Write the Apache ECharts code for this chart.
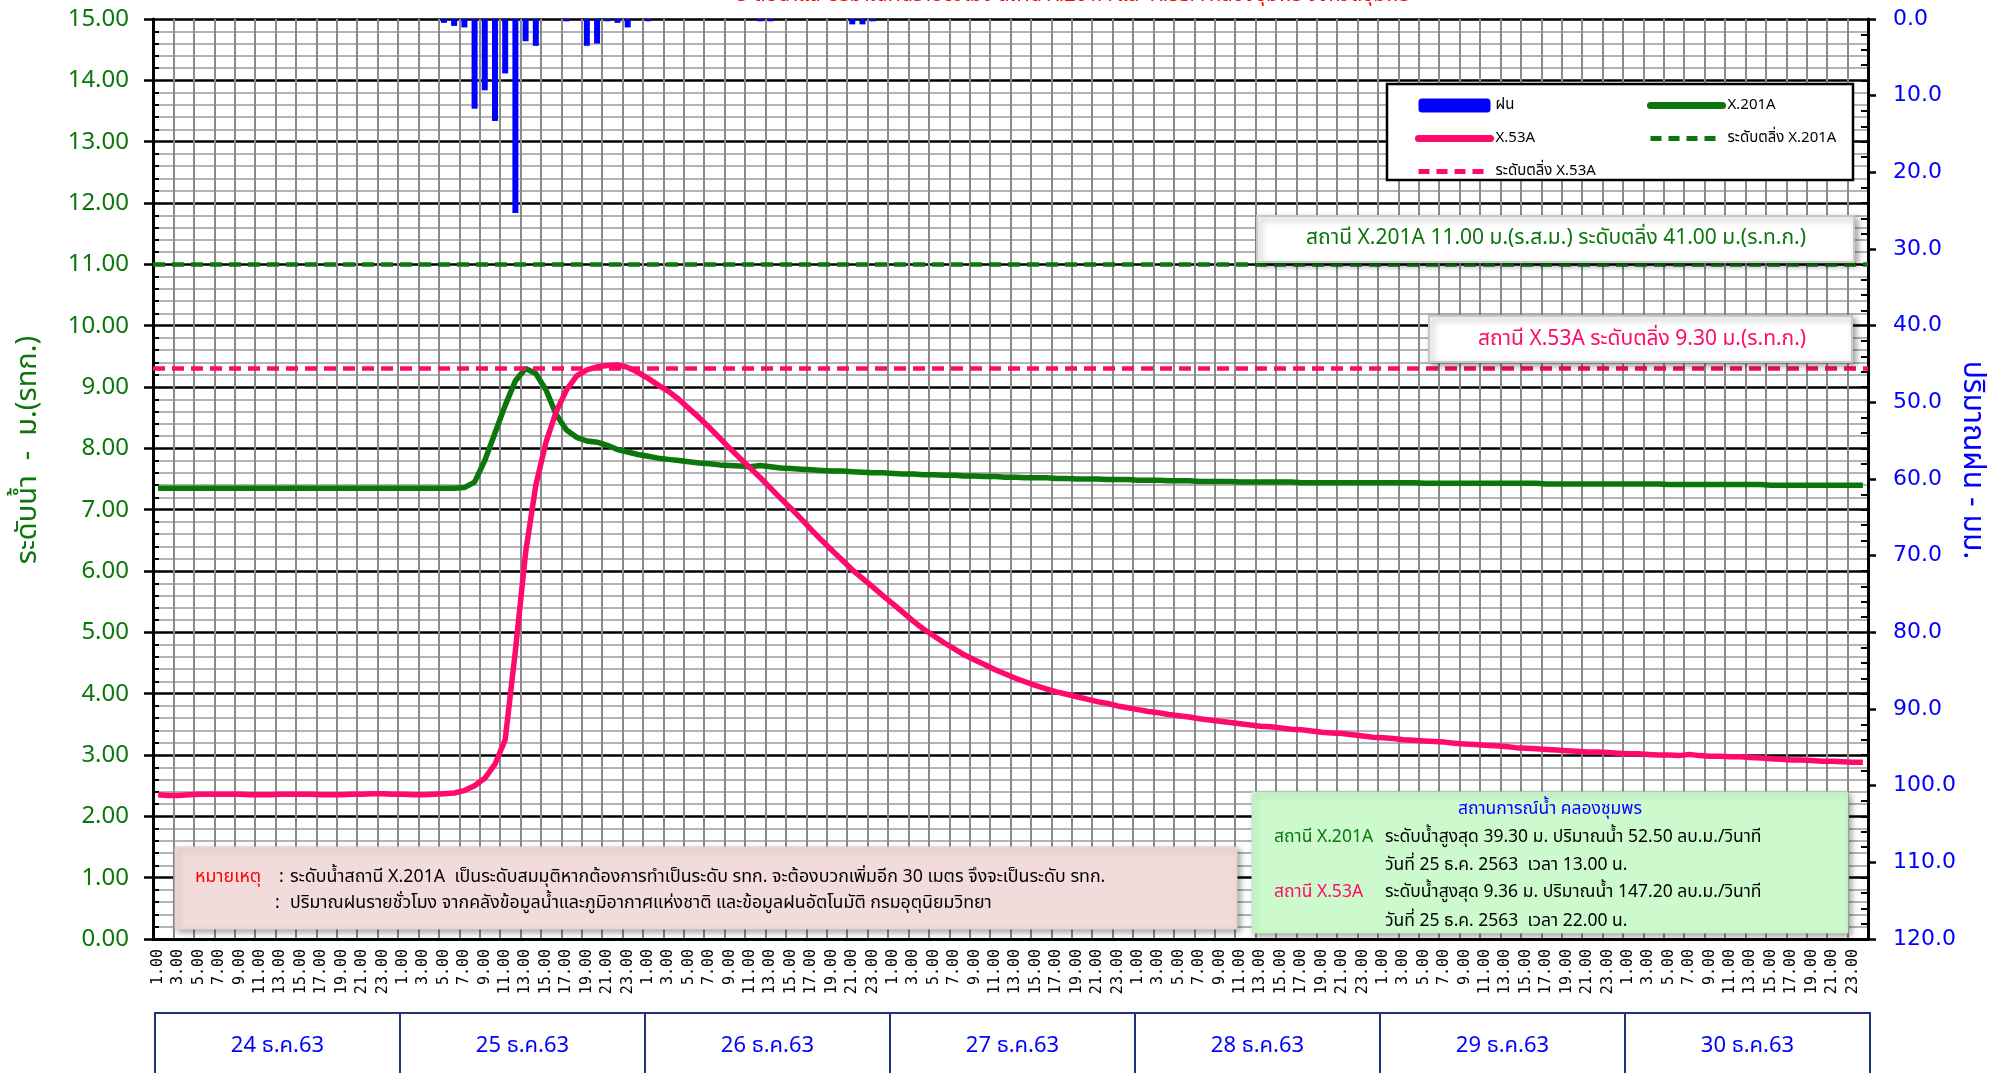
<!DOCTYPE html>
<html>
<head>
<meta charset="utf-8">
<script src="https://cdn.jsdelivr.net/npm/echarts@6/dist/echarts.min.js"></script>
<style>
html, body { margin: 0; padding: 0; background: #fff; }
#chart { width: 2010px; height: 1073px; }
</style>
</head>
<body>
<div id="chart"></div>
<script>
const hourLabels = ["1.00","2.00","3.00","4.00","5.00","6.00","7.00","8.00","9.00","10.00","11.00","12.00",
  "13.00","14.00","15.00","16.00","17.00","18.00","19.00","20.00","21.00","22.00","23.00","24.00"];
const dayLabels = ["24 ธ.ค.63","25 ธ.ค.63","26 ธ.ค.63","27 ธ.ค.63","28 ธ.ค.63","29 ธ.ค.63","30 ธ.ค.63"];

// rainfall (mm / hour), one row per day
const rain = [
  0,0,0,0,0,0,0,0,0,0,0,0,0,0,0,0,0,0,0,0,0,0,0,0,
  0,0,0,0,0.5,0.9,1.1,11.7,9.3,13.3,7.1,25.3,2.9,3.5,0,0,0.3,0,3.5,3.2,0.3,0.5,1.1,0,
  0.3,0,0,0,0,0,0,0,0,0,0,0.3,0.3,0,0,0,0,0,0,0,0.7,0.7,0.3,0,
  0,0,0,0,0,0,0,0,0,0,0,0,0,0,0,0,0,0,0,0,0,0,0,0,
  0,0,0,0,0,0,0,0,0,0,0,0,0,0,0,0,0,0,0,0,0,0,0,0,
  0,0,0,0,0,0,0,0,0,0,0,0,0,0,0,0,0,0,0,0,0,0,0,0,
  0,0,0,0,0,0,0,0,0,0,0,0,0,0,0,0,0,0,0,0,0,0,0,0
];

// water level X.201A (m.)
const levelX201A = [
  7.35,7.35,7.35,7.35,7.35,7.35,7.35,7.35,7.35,7.35,7.35,7.35,7.35,7.35,7.35,7.35,7.35,7.35,7.35,7.35,7.35,7.35,7.35,7.35,
  7.35,7.35,7.35,7.35,7.35,7.35,7.36,7.45,7.80,8.25,8.70,9.10,9.30,9.22,8.95,8.55,8.30,8.18,8.12,8.10,8.05,7.98,7.94,7.90,
  7.87,7.84,7.82,7.80,7.78,7.76,7.75,7.73,7.72,7.71,7.70,7.72,7.70,7.68,7.67,7.66,7.65,7.64,7.63,7.63,7.62,7.61,7.60,7.60,
  7.59,7.58,7.58,7.57,7.57,7.56,7.56,7.55,7.55,7.54,7.54,7.53,7.53,7.52,7.52,7.52,7.51,7.51,7.50,7.50,7.50,7.49,7.49,7.49,
  7.48,7.48,7.48,7.47,7.47,7.47,7.46,7.46,7.46,7.46,7.45,7.45,7.45,7.45,7.45,7.45,7.44,7.44,7.44,7.44,7.44,7.44,7.44,7.44,
  7.44,7.44,7.44,7.44,7.43,7.43,7.43,7.43,7.43,7.43,7.43,7.43,7.43,7.43,7.43,7.43,7.42,7.42,7.42,7.42,7.42,7.42,7.42,7.42,
  7.42,7.42,7.42,7.42,7.41,7.41,7.41,7.41,7.41,7.41,7.41,7.41,7.41,7.41,7.40,7.40,7.40,7.40,7.40,7.40,7.40,7.40,7.40,7.40
];

// water level X.53A (m.)
const levelX53A = [
  2.35,2.34,2.34,2.35,2.36,2.36,2.36,2.36,2.36,2.35,2.35,2.35,2.36,2.36,2.36,2.36,2.35,2.35,2.35,2.36,2.36,2.37,2.37,2.36,
  2.36,2.35,2.35,2.36,2.37,2.38,2.42,2.50,2.62,2.85,3.25,4.70,6.30,7.40,8.10,8.60,8.95,9.18,9.28,9.33,9.35,9.36,9.32,9.24,
  9.14,9.03,8.93,8.80,8.65,8.50,8.34,8.17,8.00,7.84,7.68,7.52,7.35,7.18,7.02,6.85,6.67,6.50,6.34,6.18,6.02,5.88,5.74,5.60,
  5.46,5.32,5.18,5.05,4.94,4.83,4.73,4.63,4.55,4.47,4.39,4.32,4.25,4.19,4.13,4.08,4.03,3.99,3.95,3.91,3.87,3.84,3.80,3.77,
  3.74,3.71,3.69,3.66,3.64,3.62,3.59,3.57,3.55,3.53,3.51,3.49,3.47,3.46,3.44,3.42,3.41,3.39,3.37,3.36,3.35,3.33,3.31,3.29,
  3.28,3.27,3.25,3.24,3.23,3.22,3.21,3.19,3.18,3.17,3.16,3.15,3.14,3.12,3.11,3.10,3.09,3.08,3.07,3.06,3.05,3.05,3.04,3.03,
  3.02,3.02,3.01,3.00,3.00,2.99,3.01,2.99,2.98,2.98,2.97,2.97,2.96,2.95,2.94,2.93,2.92,2.92,2.91,2.90,2.90,2.89,2.88,2.88
];

const bankX201A = 11.0;
const bankX53A = 9.3;

const categories = [];
dayLabels.forEach(() => hourLabels.forEach((h) => categories.push(h)));

const GREEN = "#0b760b";
const PINK = "#ff0a6c";
const BLUE = "#0000ff";
const THAI = "'Noto Sans Thai', 'Noto Sans', Tahoma, sans-serif";
const TITLE = "ระดับน้ำและปริมาณฝนรายชั่วโมง สถานี X.201A และ X.53A คลองชุมพร จังหวัดชุมพร";

const plotLeft = 153, plotRight = 1868, plotTop = 19, plotBottom = 939;

function txt(text, x, y, color, size, align, vAlign) {
  return {
    type: "text", x: x, y: y, z: 10,
    style: {
      text: text, fill: color, fontSize: size, fontFamily: THAI,
      align: align || "left", verticalAlign: vAlign || "middle",
      textAlign: align || "left", textVerticalAlign: vAlign || "middle",
    },
  };
}
function box(left, top, w, h, fill, stroke, lw, shadow) {
  return {
    type: "rect", x: left, y: top, z: 8,
    shape: { width: w, height: h },
    style: Object.assign({ fill: fill, stroke: stroke, lineWidth: lw },
      shadow ? { shadowBlur: 6, shadowOffsetX: 3, shadowOffsetY: 3, shadowColor: "rgba(0,0,0,0.35)" } : {}),
  };
}

const graphics = [];
// title, mostly cut off by the top edge
graphics.push(txt(TITLE, 1073, 7, "#ff0000", 20, "center", "bottom"));
// axis names
graphics.push(Object.assign(txt("ระดับน้ำ  -  ม.(รทก.)", 30, 450, GREEN, 29, "center"), { rotation: Math.PI / 2 }));
graphics.push(Object.assign(txt("ปริมาณฝน - มม.", 1970, 460, BLUE, 30, "center"), { rotation: -Math.PI / 2 }));
// legend frame
graphics.push(box(1387, 84, 466, 96, "#fff", "#000", 2.5, false));
// bank level labels
graphics.push(box(1257, 216, 597, 46, "#fff", "#c8c8c8", 2, true));
graphics.push(txt("สถานี X.201A 11.00 ม.(ร.ส.ม.) ระดับตลิ่ง 41.00 ม.(ร.ท.ก.)", 1556, 240, GREEN, 21, "center"));
graphics.push(box(1429, 316, 423, 46, "#fff", "#c8c8c8", 2, true));
graphics.push(txt("สถานี X.53A ระดับตลิ่ง 9.30 ม.(ร.ท.ก.)", 1642, 341, PINK, 21, "center"));
// remark box
graphics.push(box(175, 847, 1062, 82, "#f2dcdb", "#ead0d0", 1, true));
graphics.push(txt("หมายเหตุ", 195, 878, "#ff0000", 17.8));
graphics.push(txt(":", 279, 878, "#000", 17.8));
graphics.push(txt("ระดับน้ำสถานี X.201A  เป็นระดับสมมุติหากต้องการทำเป็นระดับ รทก. จะต้องบวกเพิ่มอีก 30 เมตร จึงจะเป็นระดับ รทก.", 290, 878, "#000", 17.8));
graphics.push(txt(":", 275, 904, "#000", 17.8));
graphics.push(txt("ปริมาณฝนรายชั่วโมง จากคลังข้อมูลน้ำและภูมิอากาศแห่งชาติ และข้อมูลฝนอัตโนมัติ กรมอุตุนิยมวิทยา", 290, 904, "#000", 17.8));
// summary box
graphics.push(box(1252, 792, 596, 141, "#ccfacc", "#c0ecc0", 1, true));
graphics.push(txt("สถานการณ์น้ำ คลองชุมพร", 1550, 810, BLUE, 17.5, "center"));
graphics.push(txt("สถานี X.201A", 1274, 838, GREEN, 17.5));
graphics.push(txt("ระดับน้ำสูงสุด 39.30 ม. ปริมาณน้ำ 52.50 ลบ.ม./วินาที", 1385, 838, "#000", 17.5));
graphics.push(txt("วันที่ 25 ธ.ค. 2563  เวลา 13.00 น.", 1385, 866, "#000", 17.5));
graphics.push(txt("สถานี X.53A", 1274, 893, PINK, 17.5));
graphics.push(txt("ระดับน้ำสูงสุด 9.36 ม. ปริมาณน้ำ 147.20 ลบ.ม./วินาที", 1385, 893, "#000", 17.5));
graphics.push(txt("วันที่ 25 ธ.ค. 2563  เวลา 22.00 น.", 1385, 922, "#000", 17.5));
// date boxes under the axis
const dayW = (plotRight - plotLeft) / dayLabels.length;
dayLabels.forEach((d, k) => {
  const x0 = plotLeft + 2 + k * dayW;
  graphics.push({
    type: "rect", x: x0, y: 1013, z: 8,
    shape: { width: dayW, height: 90 },
    style: { fill: "#fff", stroke: "#1f3579", lineWidth: 2 },
  });
  graphics.push(txt(d, x0 + dayW / 2, 1048, BLUE, 22, "center"));
});

const lineIcon = (name) => ({ name: name, itemStyle: { opacity: 0 }, lineStyle: { width: 7, cap: "round" } });
const dashIcon = (name) => ({ name: name, itemStyle: { opacity: 0 }, lineStyle: { width: 5 } });

const chart = echarts.init(document.getElementById("chart"));
chart.setOption({
  animation: false,
  backgroundColor: "#fff",
  grid: { left: plotLeft, right: 2010 - plotRight, top: plotTop, bottom: 1073 - plotBottom, containLabel: false },
  legend: [
    {
      orient: "vertical", left: 1410, top: 93, itemGap: 18, itemWidth: 72, itemHeight: 14, z: 12,
      textStyle: { fontSize: 15, fontFamily: THAI, color: "#000" },
      data: [{ name: "ฝน" }, lineIcon("X.53A"), dashIcon("ระดับตลิ่ง X.53A")],
    },
    {
      orient: "vertical", left: 1642, top: 93, itemGap: 18, itemWidth: 72, itemHeight: 14, z: 12,
      textStyle: { fontSize: 15, fontFamily: THAI, color: "#000" },
      data: [lineIcon("X.201A"), dashIcon("ระดับตลิ่ง X.201A")],
    },
  ],
  xAxis: [
    {
      type: "category", data: categories, boundaryGap: true,
      axisLine: { lineStyle: { color: "#000", width: 3 } },
      axisTick: { interval: 1, length: 9, lineStyle: { color: "#000", width: 2 } },
      axisLabel: { interval: 1, rotate: 90, fontSize: 15, fontFamily: "'DejaVu Sans Mono', monospace", color: "#000", margin: 10 },
      splitLine: { show: true, interval: 1, lineStyle: { color: "#8a8a8a", width: 2 } },
    },
    {
      type: "category", data: categories, boundaryGap: true, position: "bottom",
      axisLine: { show: false },
      axisTick: { interval: 0, inside: true, length: 6, lineStyle: { color: "#000", width: 2 } },
      axisLabel: { show: false },
      splitLine: { show: false },
    },
  ],
  yAxis: [
    {
      type: "value", min: 0, max: 15, interval: 1,
      axisLine: { show: true, lineStyle: { color: "#000", width: 3 } },
      axisTick: { show: true, length: 9, lineStyle: { color: "#000", width: 2.5 } },
      minorTick: { show: true, splitNumber: 5, length: -6, lineStyle: { color: "#000", width: 2 } },
      axisLabel: { color: GREEN, fontSize: 24, fontFamily: "'Noto Sans', sans-serif", margin: 24, formatter: (v) => v.toFixed(2) },
      splitLine: { show: true, lineStyle: { color: "#000", width: 2.5 } },
      minorSplitLine: { show: true, lineStyle: { color: "#b4b4b4", width: 2 } },
    },
    {
      type: "value", min: 0, max: 120, interval: 10, inverse: true, position: "right",
      axisLine: { show: true, lineStyle: { color: "#000", width: 3 } },
      axisTick: { show: true, length: 8, lineStyle: { color: "#000", width: 2.5 } },
      minorTick: { show: true, splitNumber: 5, length: -7, lineStyle: { color: "#000", width: 2 } },
      axisLabel: { color: BLUE, fontSize: 22, fontFamily: "'DejaVu Sans', sans-serif", margin: 25, formatter: (v) => v.toFixed(1) },
      splitLine: { show: false },
    },
  ],
  series: [
    {
      name: "ฝน", type: "bar", xAxisIndex: 0, yAxisIndex: 1, data: rain,
      barWidth: 6, itemStyle: { color: BLUE }, z: 3,
    },
    {
      name: "X.201A", type: "line", xAxisIndex: 0, yAxisIndex: 0, data: levelX201A,
      showSymbol: false, symbol: "none",
      lineStyle: { color: GREEN, width: 5.5 }, itemStyle: { color: GREEN }, z: 4,
    },
    {
      name: "X.53A", type: "line", xAxisIndex: 0, yAxisIndex: 0, data: levelX53A,
      showSymbol: false, symbol: "none",
      lineStyle: { color: PINK, width: 5.5 }, itemStyle: { color: PINK }, z: 5,
    },
    {
      name: "ระดับตลิ่ง X.201A", type: "line", xAxisIndex: 0, yAxisIndex: 0, data: [],
      symbol: "none", lineStyle: { color: GREEN, width: 4, type: [11, 7] }, itemStyle: { color: GREEN },
      markLine: {
        silent: true, symbol: ["none", "none"], label: { show: false },
        lineStyle: { color: GREEN, width: 4.5, type: [12, 7] },
        data: [{ yAxis: bankX201A }],
      },
    },
    {
      name: "ระดับตลิ่ง X.53A", type: "line", xAxisIndex: 0, yAxisIndex: 0, data: [],
      symbol: "none", lineStyle: { color: PINK, width: 4, type: [11, 7] }, itemStyle: { color: PINK },
      markLine: {
        silent: true, symbol: ["none", "none"], label: { show: false },
        lineStyle: { color: PINK, width: 4.5, type: [12, 7] },
        data: [{ yAxis: bankX53A }],
      },
    },
  ],
  graphic: graphics,
});
</script>
</body>
</html>
